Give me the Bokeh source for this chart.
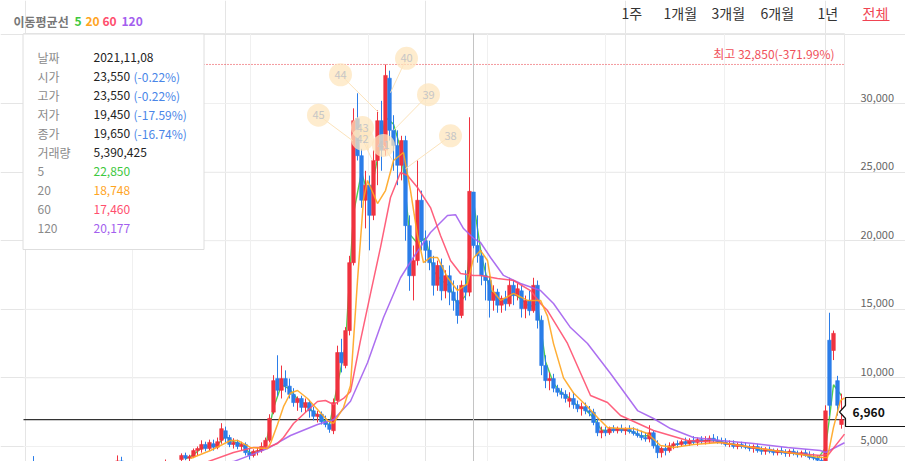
from bokeh.plotting import figure
from bokeh.models import Range1d, ColumnDataSource, Label
from bokeh.core.properties import value
from bokeh.embed import file_html
from bokeh.resources import INLINE

# daily candles (KRW), oldest -> newest, one entry per slot on the x axis
opens = [
    3400, 3350, 3600, 3400, 3300, 3350, 3280, 3200, 3250, 3180,
    3100, 3150, 3080, 3000, 3050, 3100, 3200, 3150, 3200, 3300,
    3250, 3300, 3450, 3500, 3950, 3800, 3650, 3550, 3500, 3450,
    3400, 3450, 3400, 3350, 3400, 3550, 3700, 3600, 3700, 4050,
    4350, 4150, 4250, 4700, 4800, 5150, 4850, 5200, 4950, 5450,
    6150, 5650, 5150, 5300, 5000, 5150, 4550, 4350, 4650, 4700,
    5000, 5450, 7500, 9950, 9100, 9950, 9400, 8800, 8200, 8500,
    7850, 8200, 7600, 7200, 7350, 6800, 6600, 6150, 8350, 11850,
    10900, 13450, 18400, 28900, 26200, 22950, 24050, 21850, 25850, 28750,
    26600, 31850, 28050, 26950, 25500, 27300, 21100, 17450, 18550, 22950,
    20000, 19300, 18400, 16750, 18200, 16350, 17450, 16250, 15650, 14550,
    16750, 16250, 23550, 19650, 18900, 17450, 17100, 15650, 16250, 15300,
    15800, 15400, 16750, 16000, 16350, 15050, 15650, 14900, 16750, 14200,
    10900, 9800, 9950, 9250, 8950, 8800, 8300, 8500, 8050, 7750,
    7900, 7600, 7500, 6750, 6000, 6150, 6000, 6300, 6150, 6300,
    6150, 6250, 6100, 5950, 5800, 5650, 5550, 6000, 5050, 4550,
    4850, 4700, 5050, 5200, 5150, 5350, 5200, 5450, 5300, 5500,
    5350, 5450, 5600, 5450, 5350, 5300, 5150, 5200, 5000, 5150,
    5000, 4950, 4850, 5000, 4700, 4650, 4800, 4650, 4550, 4700,
    4550, 4500, 4650, 4500, 4400, 4550, 4350, 4200, 4150, 4000,
    3950, 12750, 12000, 9800, 6600,
]
highs = [
    3500, 3450, 4300, 3500, 3400, 3450, 3350, 3300, 3350, 3250,
    3200, 3250, 3150, 3100, 3150, 3250, 3300, 3250, 3350, 3400,
    3350, 3500, 3600, 4350, 4250, 3900, 3750, 3650, 3600, 3550,
    3500, 3550, 3500, 3450, 3600, 4050, 3800, 3750, 3900, 4500,
    4550, 4400, 4850, 5000, 5450, 5350, 5500, 5500, 5650, 6700,
    6450, 5850, 5600, 5500, 5350, 5300, 4850, 4800, 4950, 5300,
    5650, 7350, 10200, 11650, 10900, 10550, 9950, 9250, 8650, 8700,
    8500, 8400, 7900, 7600, 7550, 7250, 6950, 8500, 12350, 12850,
    13700, 18900, 29650, 30750, 26700, 25100, 24750, 26600, 29500, 30200,
    32850, 32400, 29150, 28050, 27650, 27650, 21850, 19650, 25850, 23650,
    20750, 20000, 18900, 18550, 18700, 17850, 18200, 17100, 16750, 17100,
    17850, 29000, 23550, 21850, 19300, 18400, 17450, 16750, 16500, 16000,
    16350, 17300, 17100, 16900, 16750, 16000, 16350, 17300, 17100, 14550,
    11650, 10400, 10300, 9500, 9250, 9100, 8950, 8950, 8350, 8200,
    8200, 7950, 7750, 7050, 6450, 6450, 6450, 6550, 6450, 6600,
    6400, 6550, 6400, 6300, 6150, 6000, 6550, 6150, 5450, 5000,
    5200, 5300, 5350, 5450, 5500, 5650, 5600, 5750, 5650, 5750,
    5750, 5800, 5900, 5750, 5650, 5600, 5450, 5450, 5300, 5350,
    5300, 5150, 5150, 5200, 5000, 4950, 5000, 4850, 4850, 4950,
    4800, 4800, 4850, 4700, 4700, 4800, 4650, 4500, 4350, 4250,
    8000, 14750, 13450, 10150, 8850,
]
lows = [
    3300, 3250, 3350, 3250, 3200, 3250, 3150, 3100, 3150, 3050,
    3000, 3050, 2950, 2900, 2950, 3050, 3100, 3050, 3150, 3200,
    3150, 3250, 3350, 3450, 3700, 3600, 3500, 3400, 3350, 3300,
    3300, 3350, 3300, 3250, 3350, 3500, 3550, 3500, 3650, 3850,
    4000, 3850, 4150, 4350, 4550, 4650, 4700, 4700, 4800, 5200,
    5300, 4950, 4850, 4800, 4700, 4350, 4050, 4200, 4350, 4550,
    4800, 5300, 7350, 8650, 8500, 8950, 8500, 7900, 7600, 7500,
    7500, 7100, 6900, 6750, 6600, 6400, 6000, 5900, 8050, 10400,
    10700, 13100, 18200, 25850, 22400, 20900, 19300, 21500, 24050, 25100,
    26200, 27300, 25100, 24050, 24400, 20000, 16350, 15650, 18200, 19300,
    18400, 17850, 16000, 16350, 15650, 15800, 15300, 14900, 13950, 14350,
    15650, 15950, 19450, 18400, 16750, 15650, 14400, 14900, 14750, 14750,
    14900, 15200, 15300, 15650, 14400, 14350, 14550, 14750, 13600, 10200,
    9250, 9100, 8950, 8650, 8500, 8200, 7850, 7750, 7500, 7250,
    7350, 7200, 6550, 5750, 5600, 5750, 5850, 6000, 5950, 6000,
    5850, 5950, 5800, 5650, 5450, 5350, 5300, 4850, 4150, 4200,
    4350, 4550, 4800, 4900, 5000, 5050, 5050, 5150, 5050, 5200,
    5150, 5200, 5300, 5200, 5150, 5000, 4950, 4850, 4800, 4850,
    4800, 4650, 4550, 4550, 4400, 4400, 4500, 4350, 4350, 4400,
    4250, 4250, 4350, 4200, 4200, 4250, 4050, 4000, 3850, 3550,
    3850, 7250, 11300, 7250, 6300,
]
closes = [
    3350, 3300, 3400, 3300, 3350, 3280, 3200, 3250, 3180, 3100,
    3150, 3080, 3000, 3050, 3100, 3200, 3150, 3200, 3300, 3250,
    3300, 3450, 3400, 3950, 3800, 3650, 3550, 3500, 3450, 3400,
    3450, 3400, 3350, 3400, 3550, 3700, 3600, 3700, 3850, 4350,
    4150, 4250, 4700, 4850, 5150, 4850, 5300, 4950, 5350, 6300,
    5600, 5150, 5300, 5000, 5150, 4550, 4350, 4650, 4700, 5000,
    5450, 7050, 9800, 9100, 9950, 9400, 8800, 8200, 8500, 7850,
    8200, 7600, 7200, 7350, 6800, 6600, 6250, 8200, 11850, 11100,
    13450, 18400, 28750, 26200, 22950, 24050, 21850, 25850, 28750, 26600,
    32050, 28050, 26950, 25500, 27300, 21100, 17450, 18550, 22950, 20000,
    19300, 18400, 16750, 18200, 16350, 17450, 16250, 15650, 14550, 16750,
    16250, 23600, 19650, 18900, 17450, 17100, 15650, 16250, 15300, 15800,
    15400, 16750, 16000, 16500, 15050, 15650, 14900, 16750, 14200, 10900,
    9800, 9950, 9250, 8950, 8800, 8500, 8500, 8050, 7750, 7900,
    7600, 7500, 6750, 6000, 6150, 6000, 6300, 6150, 6300, 6150,
    6250, 6100, 5950, 5800, 5650, 5550, 6000, 5050, 4550, 4850,
    4700, 5050, 5200, 5150, 5350, 5200, 5450, 5300, 5500, 5350,
    5450, 5600, 5450, 5350, 5300, 5150, 5200, 5000, 5150, 5000,
    4950, 4850, 5000, 4700, 4650, 4800, 4650, 4550, 4700, 4550,
    4500, 4650, 4500, 4400, 4550, 4350, 4200, 4150, 4000, 3750,
    7600, 8000, 13250, 8000, 6960,
]

# moving averages: (slot, price) pairs
ma5_idx = [40, 42, 44, 46, 48, 50, 52, 54, 56, 58,
           60, 62, 64, 66, 68, 70, 72, 74, 76, 78,
           80, 82, 84, 86, 88, 90, 92, 94, 96, 98,
           100, 102, 104, 106, 108, 110, 112, 114, 116, 118,
           120, 122, 124, 126, 128, 130, 132, 134, 136, 138,
           140, 142, 144, 146, 148, 150, 152, 154, 156, 158,
           160, 162, 164, 166, 168, 170, 172, 174, 176, 178,
           180, 182, 184, 186, 188, 190, 192, 194, 196, 198,
           200, 201, 202, 204]
ma5 = [4100, 4400, 4900, 5050, 5150, 5750, 5350, 5150, 4550, 4600,
       5050, 7800, 9500, 9200, 8450, 8050, 7500, 7050, 6550, 9500,
       12400, 22000, 25000, 23000, 26000, 29000, 28500, 26500, 20500, 19800,
       20200, 17800, 17100, 16700, 15300, 16000, 22850, 18900, 16500, 15700,
       15500, 16200, 15700, 15200, 15400, 11200, 9600, 8900, 8550, 7950,
       7700, 7100, 6200, 6150, 6250, 6200, 6050, 5750, 5800, 4900,
       4750, 5100, 5250, 5350, 5400, 5430, 5500, 5330, 5180, 5080,
       4980, 4920, 4720, 4700, 4630, 4560, 4560, 4450, 4300, 4080,
       4900, 7100, 9500, 8700]

ma20_idx = [41.25, 46.25, 51.25, 53, 56.25, 60.5, 61.25, 63, 64.5, 66.25,
            68, 70.5, 73, 75.5, 77, 79.5, 81.25, 83, 84.5, 85.5,
            88, 90, 92, 94.5, 96.25, 98, 99.5, 101.25, 103, 105.5,
            108, 110.5, 112, 113.75, 115.5, 116.75, 118.75, 122, 125.5, 128.75,
            130.5, 132, 134.5, 137, 140.5, 143, 145.5, 148.75, 152, 155.5,
            158.75, 162, 167, 173.75, 182, 190.5, 198.75, 200.5, 202, 203.75,
            204.75]
ma20 = [4120, 4710, 5440, 5440, 4930, 4850, 5220, 6600, 7900, 8900,
        9080, 8500, 7700, 6890, 6680, 7840, 9450, 17100, 23000, 24390,
        22710, 23660, 25850, 26430, 23660, 20380, 18410, 18780, 18780, 17320,
        16370, 16880, 18748, 19290, 18560, 16370, 15650, 16160, 15650, 15650,
        14500, 12500, 10000, 8900, 7900, 7110, 6390, 6310, 6310, 5950,
        5070, 4930, 5150, 5290, 4930, 4560, 4200, 4200, 6390, 8350,
        8550]

ma60_idx = [45, 52, 57, 60.5, 63, 64.5, 67, 70.5, 73, 75,
            77, 79.5, 81.25, 83.75, 86.25, 88.75, 91.25, 93.75, 95.5, 98,
            101.25, 103.75, 106.25, 108.75, 112, 113.75, 118, 122, 126.25, 128.75,
            130.5, 135.5, 141.25, 145.5, 148.75, 157, 165.5, 173.75, 182, 190.5,
            198.75, 200.75, 204.75]
ma60 = [3830, 4560, 4930, 4930, 5220, 5660, 6680, 7620, 8280, 8350,
        8060, 8500, 9010, 12730, 16150, 19510, 23150, 24970, 24760, 23880,
        22420, 20380, 18560, 17610, 17460, 17460, 17250, 17100, 16370, 15420,
        14910, 12510, 8720, 8210, 7260, 6170, 5440, 5290, 4930, 4560,
        4340, 4420, 5900]

ma120_idx = [30, 52, 60.5, 66.25, 73, 77, 81.25, 85.5, 89.5, 93.75,
             97, 101.25, 105.5, 107.5, 109.5, 112, 113.75, 116.25, 119.5, 123.75,
             128.75, 132, 136.25, 140.5, 146.25, 153, 157, 161.25, 167, 173.75,
             182, 190.5, 198.75, 200, 204.75]
ma120 = [3200, 3900, 4850, 5800, 6600, 6950, 8300, 11100, 14400, 17300,
         18800, 20600, 21840, 21900, 20890, 20177, 19870, 18780, 17470, 16880,
         16370, 15420, 13670, 12510, 10320, 7620, 7040, 6310, 5660, 5440,
         5220, 4930, 4710, 4560, 5270]

# hovered day shown in the info box
hover = 112
hover_date = "2021,11,08"
hover_volume = "5,390,425"
hover_pcts = ["(-0.22%)", "(-0.22%)", "(-17.59%)", "(-16.74%)"]
high_pct = "(-371.99%)"

# news bubbles near the peak: label, bubble slot/price, pointed slot/price
bubble_text = ["45", "44", "43", "42", "41", "40", "39", "38"]
bubble_x = [73.25, 78.75, 84.25, 84.25, 89.5, 95.25, 100.75, 106.25]
bubble_y = [29150, 32100, 28250, 27400, 26950, 33300, 30650, 27650]
bubble_tx = [81.75, 88.25, 85.75, 86.75, 91.75, 91.25, 92.0, 95.0]
bubble_ty = [27300, 29350, 26600, 25850, 25850, 30800, 28050, 25250]

price_ticks = [5000, 10000, 15000, 20000, 25000, 30000]
half_year_slots = [26.75, 56.25, 85.75, 115.5, 145.0, 174.75]
periods = ["1주", "1개월", "3개월", "6개월", "1년", "전체"]

FONT = "Noto Sans CJK KR"
RED, BLUE = "#f0323f", "#2b7de9"
C5, C20, C60, C120 = "#3ec83e", "#ffa51f", "#ff4f6e", "#a35fee"
GRID = "#f0f0f0"

# the price pane spans page px x 23..844, y 33..461; the canvas covers the
# whole window so that the header and price tag can sit outside that pane
PANE_X0, PANE_X1 = -0.5, 204.75
PANE_Y0, PANE_Y1 = 3906, 35107
PANE_L, PANE_T, PANE_H = 23, 33, 428
PRICE_PER_PX = (PANE_Y1 - PANE_Y0) / PANE_H


def sx(px):
    return PANE_X0 + (px - PANE_L) / 4.0


def sy(py):
    return PANE_Y1 - (py - PANE_T) * PRICE_PER_PX


p = figure(width=905, height=461, x_range=Range1d(sx(0), sx(905)),
           y_range=Range1d(sy(461), sy(0)), output_backend="svg",
           toolbar_location=None, x_axis_location=None, y_axis_location=None,
           min_border=0, outline_line_color=None)

# grid and pane borders
p.segment(x0=PANE_X0, x1=PANE_X1, y0=price_ticks, y1=price_ticks,
          line_color=GRID, line_width=1)
p.segment(x0=half_year_slots, x1=half_year_slots, y0=PANE_Y0, y1=PANE_Y1,
          line_color=GRID, line_width=1)
p.segment(x0=[PANE_X0, PANE_X1], x1=[PANE_X1, PANE_X1],
          y0=[PANE_Y1, PANE_Y0], y1=[PANE_Y1, PANE_Y1],
          line_color="#e8e8e8", line_width=1)

# price scale on the right, labels a few px above their grid line
shift = 6 * PRICE_PER_PX
p.text(x=[sx(860)] * len(price_ticks), y=[t + shift for t in price_ticks],
       text=[f"{t:,}" for t in price_ticks], text_color="#666666",
       text_font=value(FONT), text_font_size="11px", text_baseline="middle")

max_high = max(highs)
p.segment(x0=PANE_X0, x1=PANE_X1, y0=max_high, y1=max_high,
          line_color="#e8323c", line_dash="1 2", line_width=1)
p.segment(x0=PANE_X0, x1=PANE_X1, y0=closes[-1], y1=closes[-1],
          line_color="#333333", line_width=1.2)
p.segment(x0=hover, x1=hover, y0=PANE_Y0, y1=PANE_Y1,
          line_color="#c4c4c4", line_width=1)

# the 5-day line mostly peeks out from behind the candles
p.line(ma5_idx, ma5, line_color=C5, line_width=1.4, line_alpha=0.9)

src = ColumnDataSource(dict(
    x=list(range(len(closes))), h=highs, l=lows,
    top=[max(o, c) for o, c in zip(opens, closes)],
    bot=[min(o, c) for o, c in zip(opens, closes)],
    color=[RED if c >= o else BLUE for o, c in zip(opens, closes)],
))
p.segment(x0="x", y0="l", x1="x", y1="h", line_color="color", line_width=1,
          source=src)
p.vbar(x="x", width=0.9, top="top", bottom="bot", fill_color="color",
       line_color="color", line_width=0.6, source=src)

for xs, ys, col in [(ma120_idx, ma120, C120), (ma60_idx, ma60, C60),
                    (ma20_idx, ma20, C20)]:
    p.line(xs, ys, line_color=col, line_width=1.5, line_alpha=0.9)

# news bubbles
p.segment(x0=bubble_x, y0=bubble_y, x1=bubble_tx, y1=bubble_ty,
          line_color="#fce3bb", line_width=1)
p.scatter(bubble_x, bubble_y, size=23, marker="circle", fill_color="#fde5be",
          fill_alpha=0.75, line_color=None)
p.text(bubble_x, bubble_y, text=bubble_text, text_color="#c6c6c6",
       text_font=value(FONT), text_font_size="11px", text_align="center",
       text_baseline="middle")

# info box
p.quad(left=sx(22.5), right=sx(203.5), top=sy(33.5), bottom=sy(249),
       fill_color="white", line_color="#dedede", line_width=1)

# last price tag
p.patch(x=[sx(845), sx(906), sx(906), sx(845), sx(845), sx(839), sx(845)],
        y=[sy(397), sy(397), sy(426), sy(426), sy(418), sy(411.5), sy(405)],
        fill_color="white", line_color="#111111", line_width=1.2)

# underline of the active period button
p.quad(left=sx(862), right=sx(889), top=sy(19.5), bottom=sy(20.5),
       fill_color="#f04452", line_color=None)


def add_text(px, py, text, color, size="12px", align="left", bold=False):
    p.add_layout(Label(x=sx(px), y=sy(py), text=text, text_color=color,
                       text_font=FONT, text_font_size=size, text_align=align,
                       text_baseline="middle",
                       text_font_style="bold" if bold else "normal"))


tip_rows = [
    ("날짜", hover_date, "#222222"),
    ("시가", f"{opens[hover]:,}", "#222222"),
    ("고가", f"{highs[hover]:,}", "#222222"),
    ("저가", f"{lows[hover]:,}", "#222222"),
    ("종가", f"{closes[hover]:,}", "#222222"),
    ("거래량", hover_volume, "#222222"),
    ("5", f"{ma5[ma5_idx.index(hover)]:,}", C5),
    ("20", f"{ma20[ma20_idx.index(hover)]:,}", C20),
    ("60", f"{ma60[ma60_idx.index(hover)]:,}", C60),
    ("120", f"{ma120[ma120_idx.index(hover)]:,}", C120),
]
for k, (lab, val, col) in enumerate(tip_rows):
    ypx = 56.7 + 19 * k
    add_text(37, ypx, lab, "#8a8a8a")
    add_text(93, ypx, val, col)
    if 1 <= k <= 4:
        add_text(133, ypx, hover_pcts[k - 1], "#4a86e8")

# header: moving-average legend and period buttons
add_text(13, 21, "이동평균선", "#777777", bold=True)
for px, txt, col in [(74, "5", C5), (85, "20", C20), (102, "60", C60),
                     (121, "120", C120)]:
    add_text(px, 21, txt, col, bold=True)
for px, txt in zip([621, 663, 711, 760, 817, 862], periods):
    add_text(px, 12, txt, "#f04452" if txt == "전체" else "#333333",
             size="14px")

add_text(834, 53, f"최고 {max_high:,}{high_pct}", "#f0505a", align="right")
add_text(852, 411.5, f"{closes[-1]:,}", "#111111", bold=True)

open("out.html", "w").write(file_html(p, INLINE))
